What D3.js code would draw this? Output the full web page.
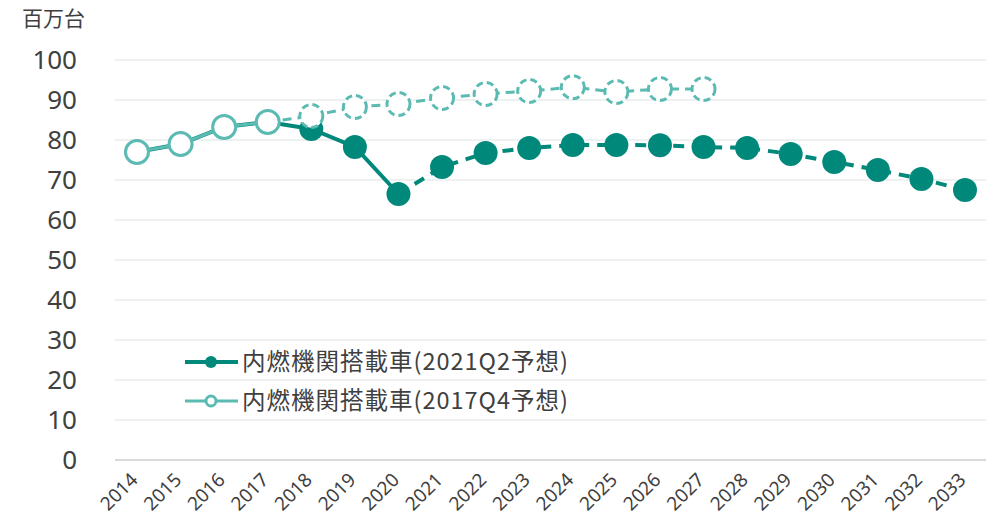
<!DOCTYPE html>
<html>
<head>
<meta charset="utf-8">
<script src="https://cdn.jsdelivr.net/npm/d3@7"></script>
<style>
  body { margin: 0; background: #fff; }
  svg text { font-family: "Noto Sans CJK JP", "Noto Sans", sans-serif; fill: #404040; }
</style>
</head>
<body>
<svg width="986" height="520"></svg>
<script>
const YEARS = d3.range(2014, 2034).map(String)
// 内燃機関搭載車 (2021Q2予想), 2014-2033
const FORECAST_2021 = [77, 79, 83.25, 84.5, 82.75, 78.25, 66.5, 73.25, 76.75, 78,
  78.75, 78.75, 78.7, 78.25, 78, 76.5, 74.5, 72.5, 70.25, 67.5]
// 内燃機関搭載車 (2017Q4予想), 2014-2027
const FORECAST_2017 = [77, 79, 83.25, 84.5, 86, 88.25, 89, 90.5, 91.5, 92.25,
  93.2, 92, 92.75, 92.75]
const Y_TICKS = [0, 10, 20, 30, 40, 50, 60, 70, 80, 90, 100]
const LEGEND = ['内燃機関搭載車(2021Q2予想)', '内燃機関搭載車(2017Q4予想)']

const DARK = '#00897b'
const LIGHT = '#5bbbb2'

const svg = d3.select('svg')

const xScale = d3.scalePoint().domain(YEARS).range([137, 965])
const yScale = d3.scaleLinear().domain([0, 100]).range([460, 60])

// gridlines
svg.append('g')
  .selectAll('line')
  .data(Y_TICKS)
  .enter()
  .append('line')
  .attr('x1', 115)
  .attr('x2', 986)
  .attr('y1', d => yScale(d))
  .attr('y2', d => yScale(d))
  .attr('stroke', d => d === 0 ? '#d9d9d9' : '#e7ecec')
  .attr('stroke-width', d => d === 0 ? 2 : 1.5)

// y tick labels
svg.append('g')
  .selectAll('text')
  .data(Y_TICKS)
  .enter()
  .append('text')
  .attr('x', 77)
  .attr('y', d => yScale(d) + 9)
  .attr('text-anchor', 'end')
  .style('font-family', '"Noto Sans", sans-serif')
  .style('font-size', '26px')
  .text(d => d)

svg.append('text')
  .attr('x', 22)
  .attr('y', 26)
  .style('font-size', '21px')
  .text('百万台')

// x tick labels
svg.append('g')
  .selectAll('text')
  .data(YEARS)
  .enter()
  .append('text')
  .attr('transform', d => `translate(${xScale(d) + 2},481) rotate(-45)`)
  .attr('text-anchor', 'end')
  .style('font-family', '"Noto Sans", sans-serif')
  .style('font-size', '19px')
  .text(d => d)

const line = d3.line()
  .x(d => xScale(d.year))
  .y(d => yScale(d.value))

const toPoints = values => values.map((v, i) => ({ year: YEARS[i], value: v }))
const dark = toPoints(FORECAST_2021)
const light = toPoints(FORECAST_2017)

// 2021Q2: solid till 2020, dashed after
svg.append('path')
  .attr('d', line(dark.slice(0, 7)))
  .attr('fill', 'none')
  .attr('stroke', DARK)
  .attr('stroke-width', 4)
svg.append('path')
  .attr('d', line(dark.slice(6)))
  .attr('fill', 'none')
  .attr('stroke', DARK)
  .attr('stroke-width', 4)
  .attr('stroke-dasharray', '11,8')
svg.append('g')
  .selectAll('circle')
  .data(dark)
  .enter()
  .append('circle')
  .attr('cx', d => xScale(d.year))
  .attr('cy', d => yScale(d.value))
  .attr('r', 12)
  .attr('fill', DARK)

// 2017Q4: solid till 2017, dashed after
svg.append('path')
  .attr('d', line(light.slice(0, 4)))
  .attr('fill', 'none')
  .attr('stroke', LIGHT)
  .attr('stroke-width', 3)
svg.append('path')
  .attr('d', line(light.slice(3)))
  .attr('fill', 'none')
  .attr('stroke', LIGHT)
  .attr('stroke-width', 3)
  .attr('stroke-dasharray', '9,6')
svg.append('g')
  .selectAll('circle')
  .data(light)
  .enter()
  .append('circle')
  .attr('cx', d => xScale(d.year))
  .attr('cy', d => yScale(d.value))
  .attr('r', 11.5)
  .attr('fill', '#fff')
  .attr('stroke', LIGHT)
  .attr('stroke-width', 3)
  .attr('stroke-dasharray', (d, i) => i > 3 ? '7,4' : null)

// legend
const legend = svg.append('g')
  .selectAll('g')
  .data(LEGEND)
  .enter()
  .append('g')
  .attr('transform', (d, i) => `translate(0,${362 + i * 39})`)
legend.append('line')
  .attr('x1', 185).attr('x2', 238)
  .attr('stroke', (d, i) => i === 0 ? DARK : LIGHT)
  .attr('stroke-width', (d, i) => i === 0 ? 4 : 3)
legend.append('circle')
  .attr('cx', 211)
  .attr('r', (d, i) => i === 0 ? 6 : 5)
  .attr('fill', (d, i) => i === 0 ? DARK : '#fff')
  .attr('stroke', (d, i) => i === 0 ? 'none' : LIGHT)
  .attr('stroke-width', 3)
legend.append('text')
  .attr('x', 242)
  .attr('y', 8)
  .style('font-size', '23.5px')
  .style('letter-spacing', '1px')
  .text(d => d)
</script>
</body>
</html>
